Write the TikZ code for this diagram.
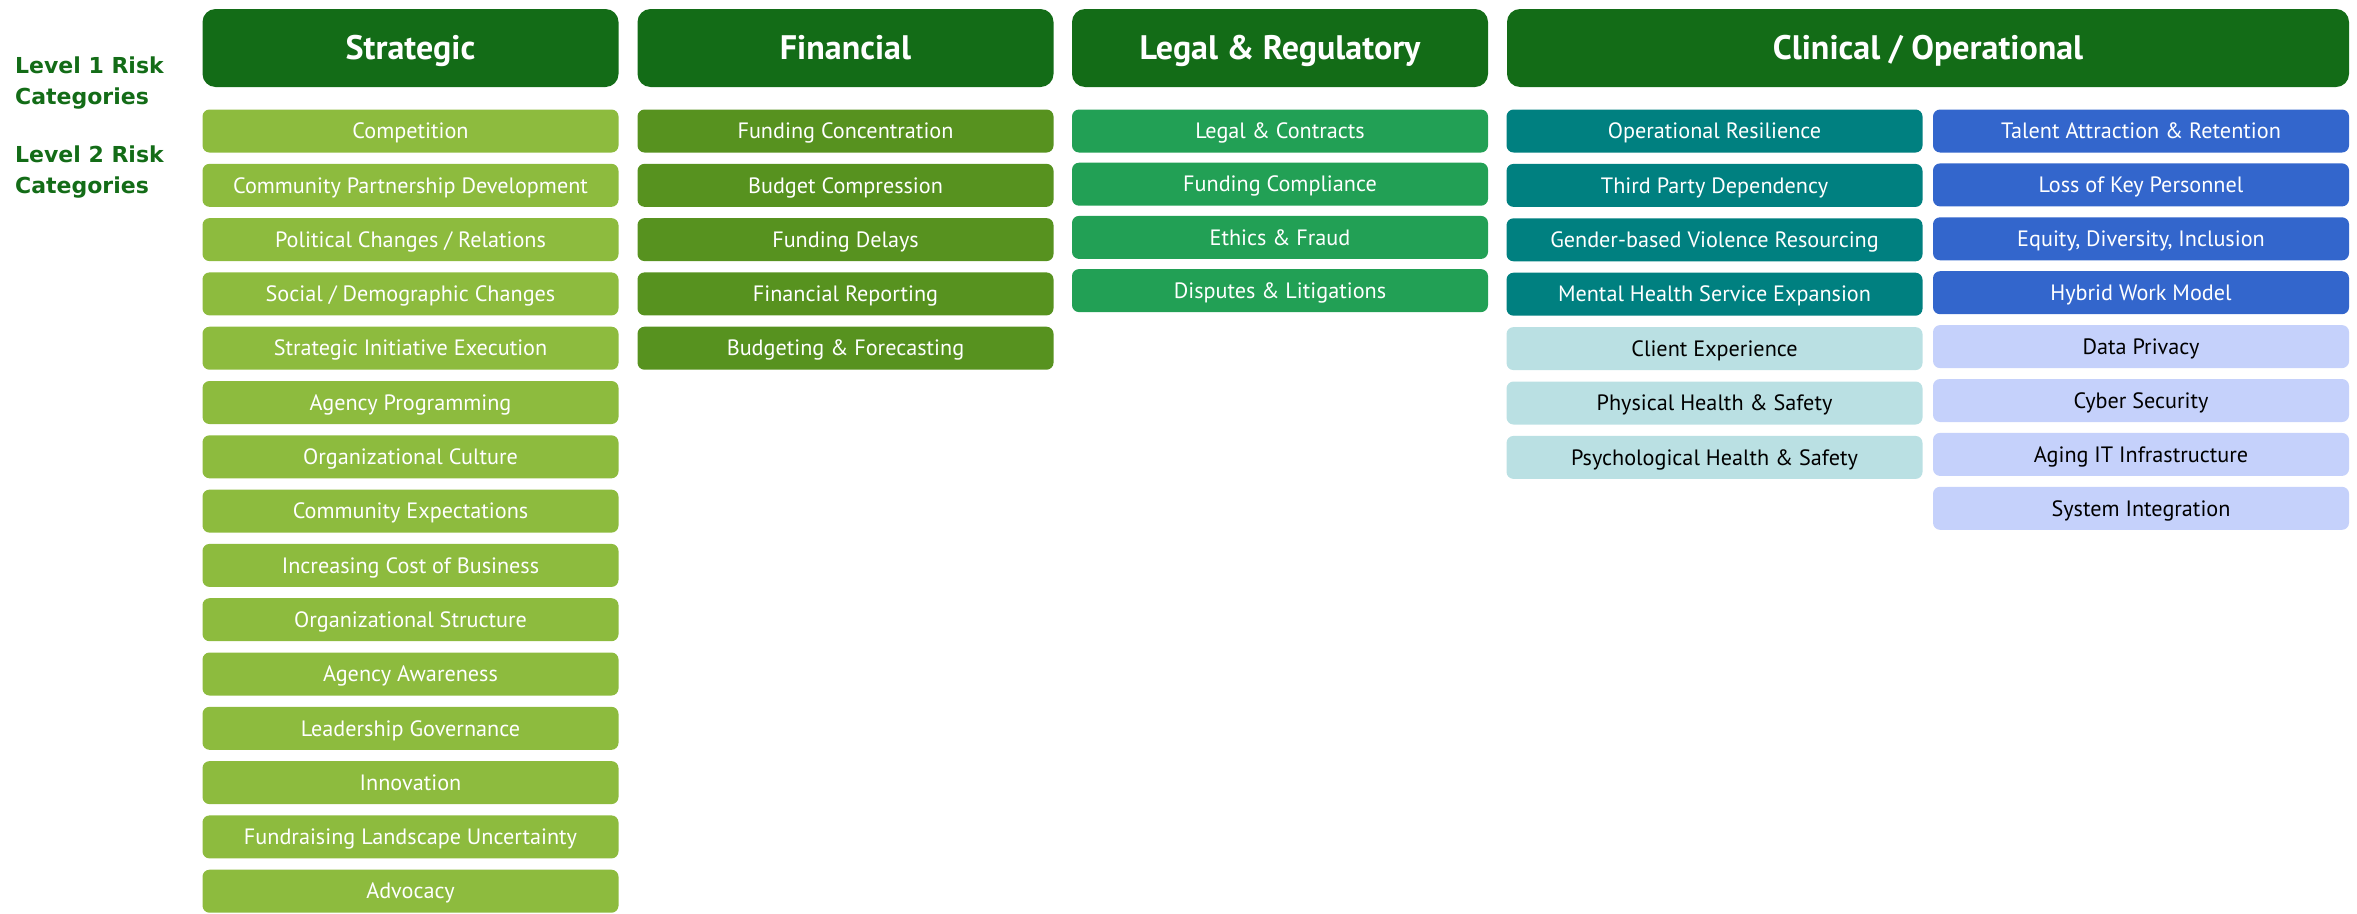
\documentclass[tikz,border=0pt]{standalone}
\usepackage{fontspec}
\setmainfont{PT Sans}
\newfontfamily\lblfont{DejaVu Sans}
\definecolor{hdrgreen}{HTML}{136C17}
\definecolor{stratgreen}{HTML}{8DBB3E}
\definecolor{fingreen}{HTML}{57921F}
\definecolor{legalgreen}{HTML}{22A055}
\definecolor{opteal}{HTML}{008080}
\definecolor{opteallight}{HTML}{BAE0E3}
\definecolor{peopleblue}{HTML}{3366CC}
\definecolor{peoplebluelight}{HTML}{C5D1FB}
\begin{document}
\begin{tikzpicture}[x=1pt,y=-1pt,
  every node/.style={inner sep=0pt,align=center},
  hdr/.style={fill=hdrgreen,text=white,rounded corners=13pt,minimum width=416pt,minimum height=78pt,
    text height=23.5pt,text depth=0pt,font=\fontsize{34}{40}\selectfont\bfseries},
  lvl/.style={minimum width=416pt,minimum height=43pt,rounded corners=7pt,
    text height=15.5pt,text depth=0pt,font=\fontsize{22.2}{26}\selectfont},
  strat/.style={lvl,fill=stratgreen,text=white},
  fin/.style={lvl,fill=fingreen,text=white},
  legal/.style={lvl,fill=legalgreen,text=white},
  opdark/.style={lvl,fill=opteal,text=white},
  oplight/.style={lvl,fill=opteallight,text=black},
  pdark/.style={lvl,fill=peopleblue,text=white},
  plight/.style={lvl,fill=peoplebluelight,text=black},
  lvltext/.style={anchor=base west,text=hdrgreen,font=\lblfont\fontsize{22}{26}\selectfont\bfseries}]
\useasboundingbox (0,0) rectangle (2357,913);

% row labels
\node[lvltext] (lvlone) at (15,73) {Level 1 Risk};
\node[lvltext] (lvlonecat) at (15,104.5) {Categories};
\node[lvltext] (lvltwo) at (15,162) {Level 2 Risk};
\node[lvltext] (lvltwocat) at (15,193.5) {Categories};

% level 1
\node[hdr] (strategic) at (410.5,48) {Strategic};
\node[hdr] (financial) at (845.5,48) {Financial};
\node[hdr] (legalreg) at (1280,48) {Legal \& Regulatory};
\node[hdr,minimum width=842pt] (clinical) at (1928,48) {Clinical / Operational};

% level 2
\foreach \t [count=\i from 0] in {Competition,Community Partnership Development,Political Changes / Relations,
  Social / Demographic Changes,Strategic Initiative Execution,Agency Programming,Organizational Culture,
  Community Expectations,Increasing Cost of Business,Organizational Structure,Agency Awareness,
  Leadership Governance,Innovation,Fundraising Landscape Uncertainty,Advocacy}
  \node[strat] (s\i) at (410.5,131+54.3*\i) {\t};

\foreach \t [count=\i from 0] in {Funding Concentration,Budget Compression,Funding Delays,
  Financial Reporting,Budgeting \& Forecasting}
  \node[fin] (f\i) at (845.5,131+54.3*\i) {\t};

\foreach \t [count=\i from 0] in {Legal \& Contracts,Funding Compliance,Ethics \& Fraud,Disputes \& Litigations}
  \node[legal] (l\i) at (1280,131+53.2*\i) {\t};

\foreach \t [count=\i from 0] in {Operational Resilience,Third Party Dependency,
  Gender-based Violence Resourcing,Mental Health Service Expansion}
  \node[opdark] (c\i) at (1714.5,131+54.4*\i) {\t};
\foreach \t [count=\i from 4] in {Client Experience,Physical Health \& Safety,Psychological Health \& Safety}
  \node[oplight] (c\i) at (1714.5,131+54.4*\i) {\t};

\foreach \t [count=\i from 0] in {Talent Attraction \& Retention,Loss of Key Personnel,
  {Equity, Diversity, Inclusion},Hybrid Work Model}
  \node[pdark] (p\i) at (2141,131+53.9*\i) {\t};
\foreach \t [count=\i from 4] in {Data Privacy,Cyber Security,Aging IT Infrastructure,System Integration}
  \node[plight] (p\i) at (2141,131+53.9*\i) {\t};
\end{tikzpicture}
\end{document}
